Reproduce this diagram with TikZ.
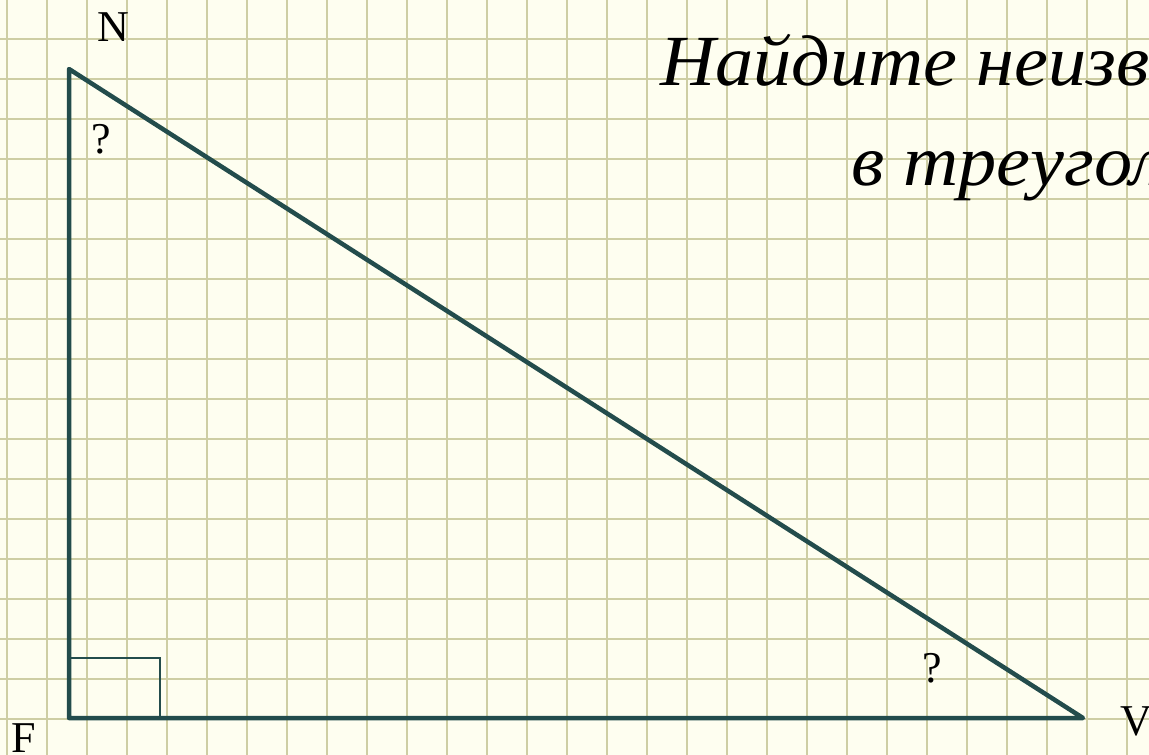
\documentclass[tikz,border=0pt]{standalone}
\usepackage{fontspec}
\setmainfont{Liberation Serif}
\newfontfamily\titlefont{Liberation Serif}[FakeStretch=1.06, ItalicFeatures={FakeStretch=1.06}]
\definecolor{paper}{RGB}{254,254,240}
\definecolor{gridc}{RGB}{206,206,164}
\definecolor{tri}{RGB}{35,76,76}
\tikzset{
  gridline/.style={draw=gridc, line width=2.4pt},
  side/.style={draw=tri, line width=4.5pt, line join=round, line cap=round},
  rightmark/.style={draw=tri, line width=1.4pt},
  vlabel/.style={font=\fontsize{44}{48}\selectfont, inner sep=0pt},
  title/.style={font=\titlefont\fontsize{72}{76}\selectfont\itshape, inner sep=0pt, anchor=base west}
}
\begin{document}
\begin{tikzpicture}[x=1pt,y=-1pt]
\useasboundingbox (0,0) rectangle (1149,755);
\begin{scope}
\clip (0,0) rectangle (1149,755);
\fill[paper] (0,0) rectangle (1149,755);
\foreach \i in {0,...,28} { \draw[gridline] ({7+40*\i},0) -- ({7+40*\i},755); }
\foreach \j in {0,...,17} { \draw[gridline] (0,{39+40*\j}) -- (1149,{39+40*\j}); }

\node[title] (t1) at (660,85) {Найдите неизвестные углы};
\node[title] (t2) at (851,185) {в треугольнике};

\coordinate (N) at (69,69);
\coordinate (F) at (69,718);
\coordinate (V) at (1083,718);
\coordinate (R1) at (69,658);
\coordinate (R2) at (160,658);
\coordinate (R3) at (160,718);

\draw[rightmark] (R1) -- (R2) -- (R3);
\draw[side] (N) -- (F) -- (V) -- cycle;

\node[vlabel] (lN) at (113,27) {N};
\node[vlabel] (lF) at (24,738) {F};
\node[vlabel] (lV) at (1136,721) {V};
\node[vlabel] (qN) at (101,139) {?};
\node[vlabel] (qV) at (932,668) {?};
\end{scope}
\end{tikzpicture}
\end{document}
